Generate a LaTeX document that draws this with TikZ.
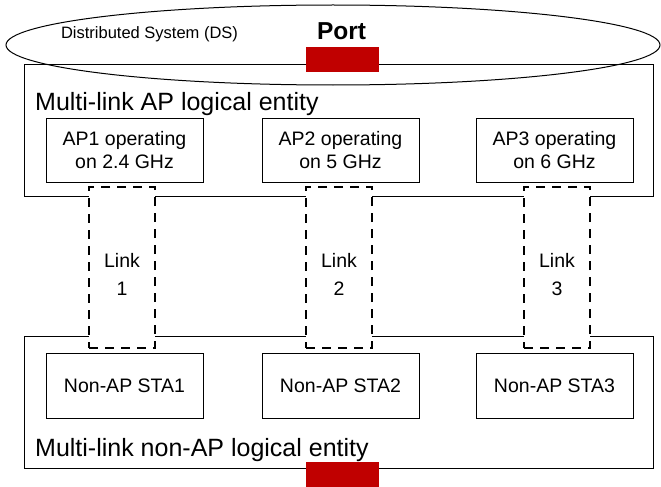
\documentclass[tikz,border=0pt]{standalone}
\usepackage{fontspec}
\setmainfont{Liberation Sans}
\usetikzlibrary{shapes,positioning}
\definecolor{portred}{HTML}{C00000}

\begin{document}
\begin{tikzpicture}[x=1pt,y=-1pt,
		entity/.style={draw,line width=1pt,inner sep=0pt,minimum width=629pt},
		radiobox/.style={draw,line width=1pt,minimum width=157pt,minimum height=64pt,inner sep=0pt,align=center,font=\fontsize{19.5}{23}\selectfont},
		linkbox/.style={draw,line width=1.8pt,dash pattern=on 9pt off 7pt,fill=white,minimum width=66pt,minimum height=161pt,inner sep=0pt},
		linktext/.style={inner sep=0pt,align=center,font=\fontsize{19.5}{28}\selectfont},
		portbox/.style={fill=portred,minimum width=73pt,minimum height=25pt,inner sep=0pt},
		bigtext/.style={anchor=base west,inner sep=0pt,font=\fontsize{25}{30}\selectfont}]
			\useasboundingbox (0,0) rectangle (661,487);
			\node[entity,minimum height=131pt] (apmld) at (338.5,130.5) {};
			\node[entity,minimum height=132pt] (stamld) at (338.5,402) {};
			\node[draw,ellipse,line width=1pt,minimum width=654pt,minimum height=80pt,inner sep=0pt] (ds) at (333,45) {};
			\node[portbox] (dsport) at (342.5,59.5) {};
			\node[portbox] (staport) at (342.5,474.5) {};
			\node[anchor=base,inner sep=0pt,font=\fontsize{16.5}{20}\selectfont] (dslabel) at (149.5,39) {Distributed System (DS)};
			\node[anchor=base,inner sep=0pt,font=\bfseries\fontsize{24.5}{29}\selectfont] (portlabel) at (341.5,40) {Port};
			\node[bigtext] (aplabel) at (35,110) {Multi-link AP logical entity};
			\node[bigtext] (stalabel) at (35,456) {Multi-link non-AP logical entity};
			\foreach \i/\x/\lx/\f in {1/124.5/122/2.4,2/340.5/339/5,3/554.5/557/6} {
				\node[radiobox] (ap\i) at (\x,150) {AP\i{} operating\\on \f{} GHz};
				\node[radiobox,minimum height=65pt] (sta\i) at (\x,385.5) {Non-AP STA\i};
				\node[linkbox] (link\i) at (\lx,267.5) {};
				\node[linktext] (linklabel\i) at ([yshift=-7pt]link\i.center) {Link\\\i};
			}
		\end{tikzpicture}
\end{document}
